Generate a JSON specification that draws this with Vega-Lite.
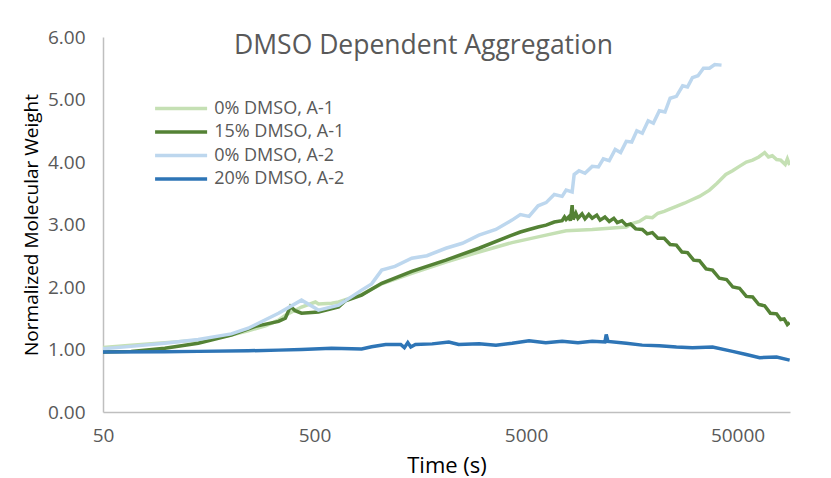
{
  "$schema": "https://vega.github.io/schema/vega-lite/v6.json",
  "width": 687,
  "height": 375,
  "autosize": {"type": "none"},
  "padding": {"left": 103, "top": 37, "right": 41, "bottom": 66},
  "background": "white",
  "config": {
    "view": {"stroke": null},
    "font": "Open Sans",
    "axis": {"grid": false, "ticks": false, "domainColor": "#bfbfbf", "domainWidth": 1.5, "labelColor": "#595959", "labelFont": "Open Sans", "labelFontSize": 19, "titleFont": "Open Sans", "titleColor": "#000000", "titleFontWeight": "normal"}
  },
  "title": {"text": "DMSO Dependent Aggregation", "fontSize": 26.5, "font": "Open Sans", "fontWeight": "normal", "color": "#595959", "anchor": "middle", "offset": -31, "dx": -23},
  "datasets": {
    "d": [
      {"s": "0% DMSO, A-1", "t": 50, "v": 1.03},
      {"s": "0% DMSO, A-1", "t": 68, "v": 1.07},
      {"s": "0% DMSO, A-1", "t": 98, "v": 1.11},
      {"s": "0% DMSO, A-1", "t": 141, "v": 1.15},
      {"s": "0% DMSO, A-1", "t": 202, "v": 1.23},
      {"s": "0% DMSO, A-1", "t": 243, "v": 1.30},
      {"s": "0% DMSO, A-1", "t": 293, "v": 1.38},
      {"s": "0% DMSO, A-1", "t": 338, "v": 1.47},
      {"s": "0% DMSO, A-1", "t": 364, "v": 1.55},
      {"s": "0% DMSO, A-1", "t": 434, "v": 1.68},
      {"s": "0% DMSO, A-1", "t": 505, "v": 1.76},
      {"s": "0% DMSO, A-1", "t": 522, "v": 1.73},
      {"s": "0% DMSO, A-1", "t": 602, "v": 1.74},
      {"s": "0% DMSO, A-1", "t": 650, "v": 1.76},
      {"s": "0% DMSO, A-1", "t": 835, "v": 1.88},
      {"s": "0% DMSO, A-1", "t": 1039, "v": 2.05},
      {"s": "0% DMSO, A-1", "t": 1441, "v": 2.22},
      {"s": "0% DMSO, A-1", "t": 2089, "v": 2.40},
      {"s": "0% DMSO, A-1", "t": 2994, "v": 2.56},
      {"s": "0% DMSO, A-1", "t": 4291, "v": 2.71},
      {"s": "0% DMSO, A-1", "t": 6219, "v": 2.83},
      {"s": "0% DMSO, A-1", "t": 7737, "v": 2.90},
      {"s": "0% DMSO, A-1", "t": 10276, "v": 2.92},
      {"s": "0% DMSO, A-1", "t": 14891, "v": 2.96},
      {"s": "0% DMSO, A-1", "t": 16000, "v": 3.02},
      {"s": "0% DMSO, A-1", "t": 17155, "v": 3.05},
      {"s": "0% DMSO, A-1", "t": 18500, "v": 3.12},
      {"s": "0% DMSO, A-1", "t": 19780, "v": 3.11},
      {"s": "0% DMSO, A-1", "t": 21000, "v": 3.18},
      {"s": "0% DMSO, A-1", "t": 22500, "v": 3.21},
      {"s": "0% DMSO, A-1", "t": 24000, "v": 3.25},
      {"s": "0% DMSO, A-1", "t": 25694, "v": 3.29},
      {"s": "0% DMSO, A-1", "t": 28000, "v": 3.34},
      {"s": "0% DMSO, A-1", "t": 30594, "v": 3.40},
      {"s": "0% DMSO, A-1", "t": 33000, "v": 3.45},
      {"s": "0% DMSO, A-1", "t": 36844, "v": 3.55},
      {"s": "0% DMSO, A-1", "t": 40000, "v": 3.66},
      {"s": "0% DMSO, A-1", "t": 44000, "v": 3.80},
      {"s": "0% DMSO, A-1", "t": 47352, "v": 3.86},
      {"s": "0% DMSO, A-1", "t": 51000, "v": 3.93},
      {"s": "0% DMSO, A-1", "t": 55000, "v": 4.00},
      {"s": "0% DMSO, A-1", "t": 58900, "v": 4.03},
      {"s": "0% DMSO, A-1", "t": 63000, "v": 4.08},
      {"s": "0% DMSO, A-1", "t": 67150, "v": 4.15},
      {"s": "0% DMSO, A-1", "t": 70000, "v": 4.08},
      {"s": "0% DMSO, A-1", "t": 73000, "v": 4.10},
      {"s": "0% DMSO, A-1", "t": 76500, "v": 4.04},
      {"s": "0% DMSO, A-1", "t": 80000, "v": 4.03},
      {"s": "0% DMSO, A-1", "t": 84000, "v": 3.96},
      {"s": "0% DMSO, A-1", "t": 86000, "v": 4.05},
      {"s": "0% DMSO, A-1", "t": 88200, "v": 3.95},

      {"s": "15% DMSO, A-1", "t": 50, "v": 0.96},
      {"s": "15% DMSO, A-1", "t": 68, "v": 0.97},
      {"s": "15% DMSO, A-1", "t": 98, "v": 1.02},
      {"s": "15% DMSO, A-1", "t": 141, "v": 1.10},
      {"s": "15% DMSO, A-1", "t": 202, "v": 1.23},
      {"s": "15% DMSO, A-1", "t": 263, "v": 1.37},
      {"s": "15% DMSO, A-1", "t": 338, "v": 1.45},
      {"s": "15% DMSO, A-1", "t": 364, "v": 1.50},
      {"s": "15% DMSO, A-1", "t": 385, "v": 1.69},
      {"s": "15% DMSO, A-1", "t": 405, "v": 1.62},
      {"s": "15% DMSO, A-1", "t": 434, "v": 1.58},
      {"s": "15% DMSO, A-1", "t": 522, "v": 1.60},
      {"s": "15% DMSO, A-1", "t": 650, "v": 1.68},
      {"s": "15% DMSO, A-1", "t": 700, "v": 1.78},
      {"s": "15% DMSO, A-1", "t": 835, "v": 1.87},
      {"s": "15% DMSO, A-1", "t": 1039, "v": 2.06},
      {"s": "15% DMSO, A-1", "t": 1441, "v": 2.25},
      {"s": "15% DMSO, A-1", "t": 2089, "v": 2.43},
      {"s": "15% DMSO, A-1", "t": 2994, "v": 2.62},
      {"s": "15% DMSO, A-1", "t": 4291, "v": 2.83},
      {"s": "15% DMSO, A-1", "t": 4700, "v": 2.88},
      {"s": "15% DMSO, A-1", "t": 5167, "v": 2.92},
      {"s": "15% DMSO, A-1", "t": 5700, "v": 2.96},
      {"s": "15% DMSO, A-1", "t": 6219, "v": 2.99},
      {"s": "15% DMSO, A-1", "t": 6800, "v": 3.04},
      {"s": "15% DMSO, A-1", "t": 7406, "v": 3.06},
      {"s": "15% DMSO, A-1", "t": 7600, "v": 3.12},
      {"s": "15% DMSO, A-1", "t": 7737, "v": 3.08},
      {"s": "15% DMSO, A-1", "t": 8000, "v": 3.13},
      {"s": "15% DMSO, A-1", "t": 8100, "v": 3.06},
      {"s": "15% DMSO, A-1", "t": 8260, "v": 3.31},
      {"s": "15% DMSO, A-1", "t": 8350, "v": 3.08},
      {"s": "15% DMSO, A-1", "t": 8600, "v": 3.18},
      {"s": "15% DMSO, A-1", "t": 8800, "v": 3.10},
      {"s": "15% DMSO, A-1", "t": 9200, "v": 3.17},
      {"s": "15% DMSO, A-1", "t": 9500, "v": 3.09},
      {"s": "15% DMSO, A-1", "t": 9900, "v": 3.16},
      {"s": "15% DMSO, A-1", "t": 10276, "v": 3.10},
      {"s": "15% DMSO, A-1", "t": 10800, "v": 3.15},
      {"s": "15% DMSO, A-1", "t": 11200, "v": 3.07},
      {"s": "15% DMSO, A-1", "t": 11800, "v": 3.12},
      {"s": "15% DMSO, A-1", "t": 12370, "v": 3.05},
      {"s": "15% DMSO, A-1", "t": 13000, "v": 3.10},
      {"s": "15% DMSO, A-1", "t": 13500, "v": 3.03},
      {"s": "15% DMSO, A-1", "t": 14200, "v": 3.06},
      {"s": "15% DMSO, A-1", "t": 14891, "v": 2.99},
      {"s": "15% DMSO, A-1", "t": 15600, "v": 3.01},
      {"s": "15% DMSO, A-1", "t": 16500, "v": 2.93},
      {"s": "15% DMSO, A-1", "t": 17729, "v": 2.92},
      {"s": "15% DMSO, A-1", "t": 18700, "v": 2.85},
      {"s": "15% DMSO, A-1", "t": 19780, "v": 2.87},
      {"s": "15% DMSO, A-1", "t": 21000, "v": 2.78},
      {"s": "15% DMSO, A-1", "t": 22500, "v": 2.78},
      {"s": "15% DMSO, A-1", "t": 24000, "v": 2.68},
      {"s": "15% DMSO, A-1", "t": 25694, "v": 2.67},
      {"s": "15% DMSO, A-1", "t": 27300, "v": 2.56},
      {"s": "15% DMSO, A-1", "t": 29000, "v": 2.55},
      {"s": "15% DMSO, A-1", "t": 31000, "v": 2.43},
      {"s": "15% DMSO, A-1", "t": 33030, "v": 2.42},
      {"s": "15% DMSO, A-1", "t": 35500, "v": 2.29},
      {"s": "15% DMSO, A-1", "t": 38070, "v": 2.27},
      {"s": "15% DMSO, A-1", "t": 41000, "v": 2.14},
      {"s": "15% DMSO, A-1", "t": 44356, "v": 2.12},
      {"s": "15% DMSO, A-1", "t": 47500, "v": 2.00},
      {"s": "15% DMSO, A-1", "t": 51100, "v": 1.98},
      {"s": "15% DMSO, A-1", "t": 55000, "v": 1.85},
      {"s": "15% DMSO, A-1", "t": 58900, "v": 1.84},
      {"s": "15% DMSO, A-1", "t": 63000, "v": 1.72},
      {"s": "15% DMSO, A-1", "t": 67150, "v": 1.70},
      {"s": "15% DMSO, A-1", "t": 71500, "v": 1.58},
      {"s": "15% DMSO, A-1", "t": 76500, "v": 1.57},
      {"s": "15% DMSO, A-1", "t": 80000, "v": 1.48},
      {"s": "15% DMSO, A-1", "t": 83000, "v": 1.49},
      {"s": "15% DMSO, A-1", "t": 86000, "v": 1.40},
      {"s": "15% DMSO, A-1", "t": 88200, "v": 1.43},

      {"s": "0% DMSO, A-2", "t": 50, "v": 1.01},
      {"s": "0% DMSO, A-2", "t": 68, "v": 1.05},
      {"s": "0% DMSO, A-2", "t": 98, "v": 1.10},
      {"s": "0% DMSO, A-2", "t": 141, "v": 1.16},
      {"s": "0% DMSO, A-2", "t": 202, "v": 1.25},
      {"s": "0% DMSO, A-2", "t": 243, "v": 1.34},
      {"s": "0% DMSO, A-2", "t": 338, "v": 1.58},
      {"s": "0% DMSO, A-2", "t": 434, "v": 1.79},
      {"s": "0% DMSO, A-2", "t": 505, "v": 1.66},
      {"s": "0% DMSO, A-2", "t": 522, "v": 1.63},
      {"s": "0% DMSO, A-2", "t": 650, "v": 1.71},
      {"s": "0% DMSO, A-2", "t": 835, "v": 1.95},
      {"s": "0% DMSO, A-2", "t": 931, "v": 2.05},
      {"s": "0% DMSO, A-2", "t": 1039, "v": 2.27},
      {"s": "0% DMSO, A-2", "t": 1200, "v": 2.33},
      {"s": "0% DMSO, A-2", "t": 1441, "v": 2.46},
      {"s": "0% DMSO, A-2", "t": 1700, "v": 2.50},
      {"s": "0% DMSO, A-2", "t": 2089, "v": 2.62},
      {"s": "0% DMSO, A-2", "t": 2500, "v": 2.70},
      {"s": "0% DMSO, A-2", "t": 2994, "v": 2.83},
      {"s": "0% DMSO, A-2", "t": 3600, "v": 2.92},
      {"s": "0% DMSO, A-2", "t": 4291, "v": 3.07},
      {"s": "0% DMSO, A-2", "t": 4700, "v": 3.16},
      {"s": "0% DMSO, A-2", "t": 5167, "v": 3.13},
      {"s": "0% DMSO, A-2", "t": 5700, "v": 3.30},
      {"s": "0% DMSO, A-2", "t": 6219, "v": 3.35},
      {"s": "0% DMSO, A-2", "t": 6800, "v": 3.48},
      {"s": "0% DMSO, A-2", "t": 7406, "v": 3.45},
      {"s": "0% DMSO, A-2", "t": 7737, "v": 3.55},
      {"s": "0% DMSO, A-2", "t": 8260, "v": 3.52},
      {"s": "0% DMSO, A-2", "t": 8443, "v": 3.80},
      {"s": "0% DMSO, A-2", "t": 8900, "v": 3.86},
      {"s": "0% DMSO, A-2", "t": 9500, "v": 3.82},
      {"s": "0% DMSO, A-2", "t": 10276, "v": 3.93},
      {"s": "0% DMSO, A-2", "t": 11000, "v": 3.92},
      {"s": "0% DMSO, A-2", "t": 11600, "v": 4.05},
      {"s": "0% DMSO, A-2", "t": 12370, "v": 4.02},
      {"s": "0% DMSO, A-2", "t": 13200, "v": 4.20},
      {"s": "0% DMSO, A-2", "t": 14000, "v": 4.15},
      {"s": "0% DMSO, A-2", "t": 14891, "v": 4.33},
      {"s": "0% DMSO, A-2", "t": 15800, "v": 4.32},
      {"s": "0% DMSO, A-2", "t": 16700, "v": 4.50},
      {"s": "0% DMSO, A-2", "t": 17729, "v": 4.46},
      {"s": "0% DMSO, A-2", "t": 18900, "v": 4.66},
      {"s": "0% DMSO, A-2", "t": 20000, "v": 4.62},
      {"s": "0% DMSO, A-2", "t": 21346, "v": 4.82},
      {"s": "0% DMSO, A-2", "t": 22700, "v": 4.80},
      {"s": "0% DMSO, A-2", "t": 24000, "v": 5.02},
      {"s": "0% DMSO, A-2", "t": 25694, "v": 5.05},
      {"s": "0% DMSO, A-2", "t": 27500, "v": 5.22},
      {"s": "0% DMSO, A-2", "t": 29000, "v": 5.20},
      {"s": "0% DMSO, A-2", "t": 30594, "v": 5.35},
      {"s": "0% DMSO, A-2", "t": 32500, "v": 5.38},
      {"s": "0% DMSO, A-2", "t": 34500, "v": 5.50},
      {"s": "0% DMSO, A-2", "t": 36844, "v": 5.50},
      {"s": "0% DMSO, A-2", "t": 39000, "v": 5.56},
      {"s": "0% DMSO, A-2", "t": 42000, "v": 5.55},

      {"s": "20% DMSO, A-2", "t": 50, "v": 0.96},
      {"s": "20% DMSO, A-2", "t": 98, "v": 0.965},
      {"s": "20% DMSO, A-2", "t": 141, "v": 0.97},
      {"s": "20% DMSO, A-2", "t": 243, "v": 0.98},
      {"s": "20% DMSO, A-2", "t": 338, "v": 0.99},
      {"s": "20% DMSO, A-2", "t": 434, "v": 1.00},
      {"s": "20% DMSO, A-2", "t": 602, "v": 1.02},
      {"s": "20% DMSO, A-2", "t": 835, "v": 1.01},
      {"s": "20% DMSO, A-2", "t": 931, "v": 1.045},
      {"s": "20% DMSO, A-2", "t": 1085, "v": 1.08},
      {"s": "20% DMSO, A-2", "t": 1278, "v": 1.08},
      {"s": "20% DMSO, A-2", "t": 1330, "v": 1.03},
      {"s": "20% DMSO, A-2", "t": 1380, "v": 1.11},
      {"s": "20% DMSO, A-2", "t": 1426, "v": 1.04},
      {"s": "20% DMSO, A-2", "t": 1500, "v": 1.08},
      {"s": "20% DMSO, A-2", "t": 1800, "v": 1.09},
      {"s": "20% DMSO, A-2", "t": 2158, "v": 1.12},
      {"s": "20% DMSO, A-2", "t": 2400, "v": 1.08},
      {"s": "20% DMSO, A-2", "t": 3000, "v": 1.09},
      {"s": "20% DMSO, A-2", "t": 3604, "v": 1.07},
      {"s": "20% DMSO, A-2", "t": 4300, "v": 1.10},
      {"s": "20% DMSO, A-2", "t": 5167, "v": 1.14},
      {"s": "20% DMSO, A-2", "t": 6200, "v": 1.11},
      {"s": "20% DMSO, A-2", "t": 7406, "v": 1.13},
      {"s": "20% DMSO, A-2", "t": 8800, "v": 1.11},
      {"s": "20% DMSO, A-2", "t": 10276, "v": 1.13},
      {"s": "20% DMSO, A-2", "t": 11800, "v": 1.12},
      {"s": "20% DMSO, A-2", "t": 11970, "v": 1.24},
      {"s": "20% DMSO, A-2", "t": 12200, "v": 1.13},
      {"s": "20% DMSO, A-2", "t": 14891, "v": 1.10},
      {"s": "20% DMSO, A-2", "t": 17700, "v": 1.07},
      {"s": "20% DMSO, A-2", "t": 21346, "v": 1.06},
      {"s": "20% DMSO, A-2", "t": 25700, "v": 1.04},
      {"s": "20% DMSO, A-2", "t": 30594, "v": 1.03},
      {"s": "20% DMSO, A-2", "t": 38070, "v": 1.04},
      {"s": "20% DMSO, A-2", "t": 47352, "v": 0.97},
      {"s": "20% DMSO, A-2", "t": 55000, "v": 0.92},
      {"s": "20% DMSO, A-2", "t": 63600, "v": 0.87},
      {"s": "20% DMSO, A-2", "t": 76500, "v": 0.88},
      {"s": "20% DMSO, A-2", "t": 88200, "v": 0.83}
    ]
  },
  "data": {"name": "d"},
  "mark": {"type": "line", "strokeWidth": 3.5, "clip": true},
  "encoding": {
    "x": {"field": "t", "type": "quantitative", "scale": {"type": "log", "domain": [50, 88500], "nice": false}, "axis": {"values": [50, 500, 5000, 50000], "format": "d", "labelPadding": 14, "title": "Time (s)", "titleFontSize": 22, "titlePadding": 10, "labelFlush": false}},
    "y": {"field": "v", "type": "quantitative", "scale": {"domain": [0, 6], "nice": false}, "axis": {"values": [0, 1, 2, 3, 4, 5, 6], "format": ".2f", "labelPadding": 18, "title": "Normalized Molecular Weight", "titleFontSize": 19, "titlePadding": 6}},
    "color": {"field": "s", "type": "nominal", "sort": null, "scale": {"domain": ["0% DMSO, A-1", "15% DMSO, A-1", "0% DMSO, A-2", "20% DMSO, A-2"], "range": ["#c5e0b4", "#548235", "#bdd7ee", "#2e75b6"]}, "legend": {"title": null, "orient": "none", "legendX": 65.6, "legendY": 59, "symbolType": "M-2.5,0H2.5", "symbolSize": 433, "symbolStrokeWidth": 3.5, "labelFontSize": 18, "labelColor": "#595959", "labelFont": "Open Sans", "labelOffset": 20.6, "padding": 0, "rowPadding": 1.5}}
  }
}
